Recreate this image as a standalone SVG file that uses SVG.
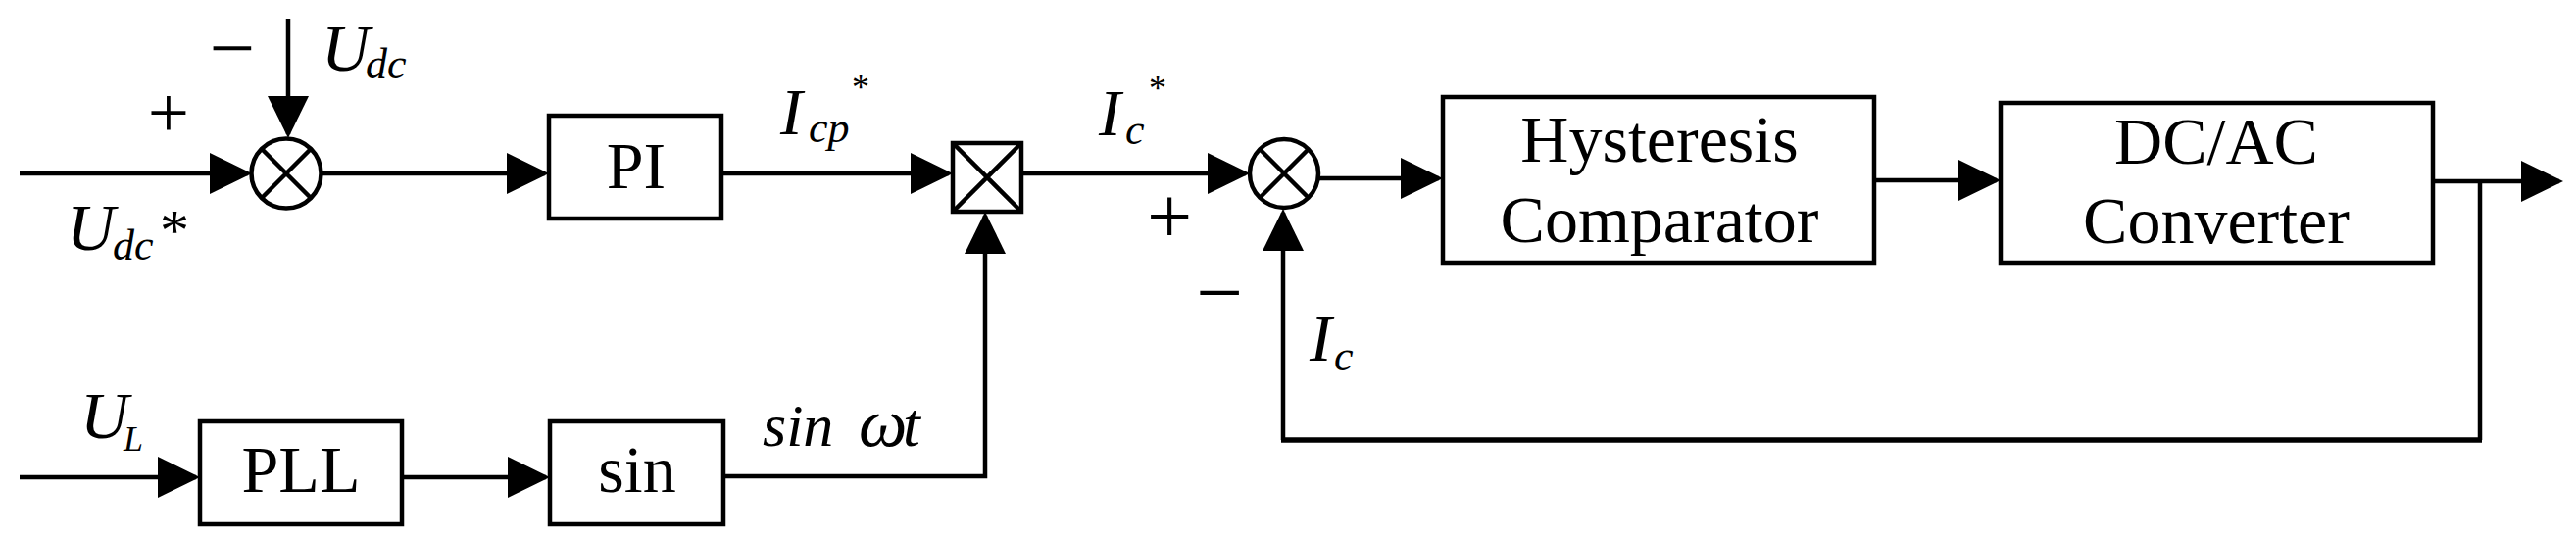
<svg xmlns="http://www.w3.org/2000/svg" width="2628" height="548" viewBox="0 0 2628 548">
<style>
.ln{fill:none;stroke:#000;stroke-width:4.5;stroke-linejoin:miter}
.bx{fill:#fff;stroke:#000;stroke-width:4.5}
.t{font-family:"Liberation Serif","Times New Roman",serif;font-size:68px;fill:#000;text-anchor:middle}
.it{font-family:"Liberation Serif","Times New Roman",serif;font-style:italic;fill:#000}
.m{font-size:68px}
.s{font-size:44px}
.st{font-family:"Liberation Serif","Times New Roman",serif;fill:#000}
.sg{font-family:"Liberation Serif","Times New Roman",serif;fill:#000;text-anchor:middle}
</style>
<defs>
<marker id="ah" markerUnits="userSpaceOnUse" markerWidth="44" markerHeight="44" viewBox="0 0 44 42" refX="39" refY="21" orient="auto">
<path d="M0,0 L43,21 L0,42 z" fill="#000"/>
</marker>
</defs>
<rect width="2628" height="548" fill="#fff"/>
<g id="connectors">
<path class="ln" d="M20,177 H253" marker-end="url(#ah)"/>
<path class="ln" d="M294,19 V137" marker-end="url(#ah)"/>
<path class="ln" d="M328,177 H556" marker-end="url(#ah)"/>
<path class="ln" d="M736,177 H968" marker-end="url(#ah)"/>
<path class="ln" d="M738,486 H1005 V220" marker-end="url(#ah)"/>
<path class="ln" d="M1042,177 H1271" marker-end="url(#ah)"/>
<path class="ln" d="M1345,182 H1468" marker-end="url(#ah)"/>
<path class="ln" d="M1912,184 H2037" marker-end="url(#ah)"/>
<path class="ln" d="M2482,185 H2611" marker-end="url(#ah)"/>
<path class="ln" d="M2530,185 V449"/>
<path class="ln" style="stroke-width:5.5" d="M2532,449 H1307"/>
<path class="ln" d="M1309,449 V217" marker-end="url(#ah)"/>
<path class="ln" d="M20,487 H200" marker-end="url(#ah)"/>
<path class="ln" d="M410,487 H557" marker-end="url(#ah)"/>
</g>
<g id="sum1">
<circle class="bx" cx="292" cy="177" r="35.5"/>
<path class="ln" d="M267,152 L317,202 M317,152 L267,202"/>
</g>
<g id="pi">
<rect class="bx" x="560" y="118" width="176" height="105"/>
<text class="t" x="649" y="192">PI</text>
</g>
<g id="mult">
<rect class="bx" x="972" y="146" width="70" height="70"/>
<path class="ln" d="M972,146 L1042,216 M1042,146 L972,216"/>
</g>
<g id="sum2">
<circle class="bx" cx="1310" cy="177" r="35"/>
<path class="ln" d="M1285,152 L1335,202 M1335,152 L1285,202"/>
</g>
<g id="hysteresis">
<rect class="bx" x="1472" y="99" width="440" height="169"/>
<text class="t" x="1693" y="165">Hysteresis</text>
<text class="t" x="1693" y="247">Comparator</text>
</g>
<g id="dcac">
<rect class="bx" x="2041" y="105" width="441" height="163"/>
<text class="t" x="2261" y="167">DC/AC</text>
<text class="t" x="2261" y="248">Converter</text>
</g>
<g id="pll">
<rect class="bx" x="204" y="430" width="206" height="105"/>
<text class="t" x="307" y="502">PLL</text>
</g>
<g id="sin">
<rect class="bx" x="561" y="430" width="177" height="105"/>
<text class="t" x="650" y="502">sin</text>
</g>
<g id="labels">
<text class="sg" style="font-size:83px" x="237" y="77">−</text>
<text class="sg" style="font-size:75px" x="172" y="140">+</text>
<text class="sg" style="font-size:82px" x="1193" y="248">+</text>
<text class="sg" style="font-size:85px" x="1244" y="327">−</text>
<text class="it m" x="328" y="72">U</text><text class="it s" x="373" y="80">dc</text>
<text class="it m" x="68" y="255">U</text><text class="it s" x="115" y="265">dc</text><text class="st" style="font-size:60px" x="163" y="255">*</text>
<text class="it m" x="796" y="137">I</text><text class="it s" x="825" y="145">cp</text><text class="st" style="font-size:36px" x="869" y="101">*</text>
<text class="it m" x="1121" y="138">I</text><text class="it s" x="1148" y="147">c</text><text class="st" style="font-size:36px" x="1172" y="102">*</text>
<text class="it m" x="1336" y="368">I</text><text class="it s" x="1361" y="378">c</text>
<text class="it m" x="82" y="447">U</text><text class="it" style="font-size:36px" x="126" y="460">L</text>
<text class="it" style="font-size:62px" x="778" y="455">sin</text><text class="it" style="font-size:70px" x="876" y="455">ω</text><text class="it" style="font-size:64px" x="921" y="455">t</text>
</g>
</svg>
